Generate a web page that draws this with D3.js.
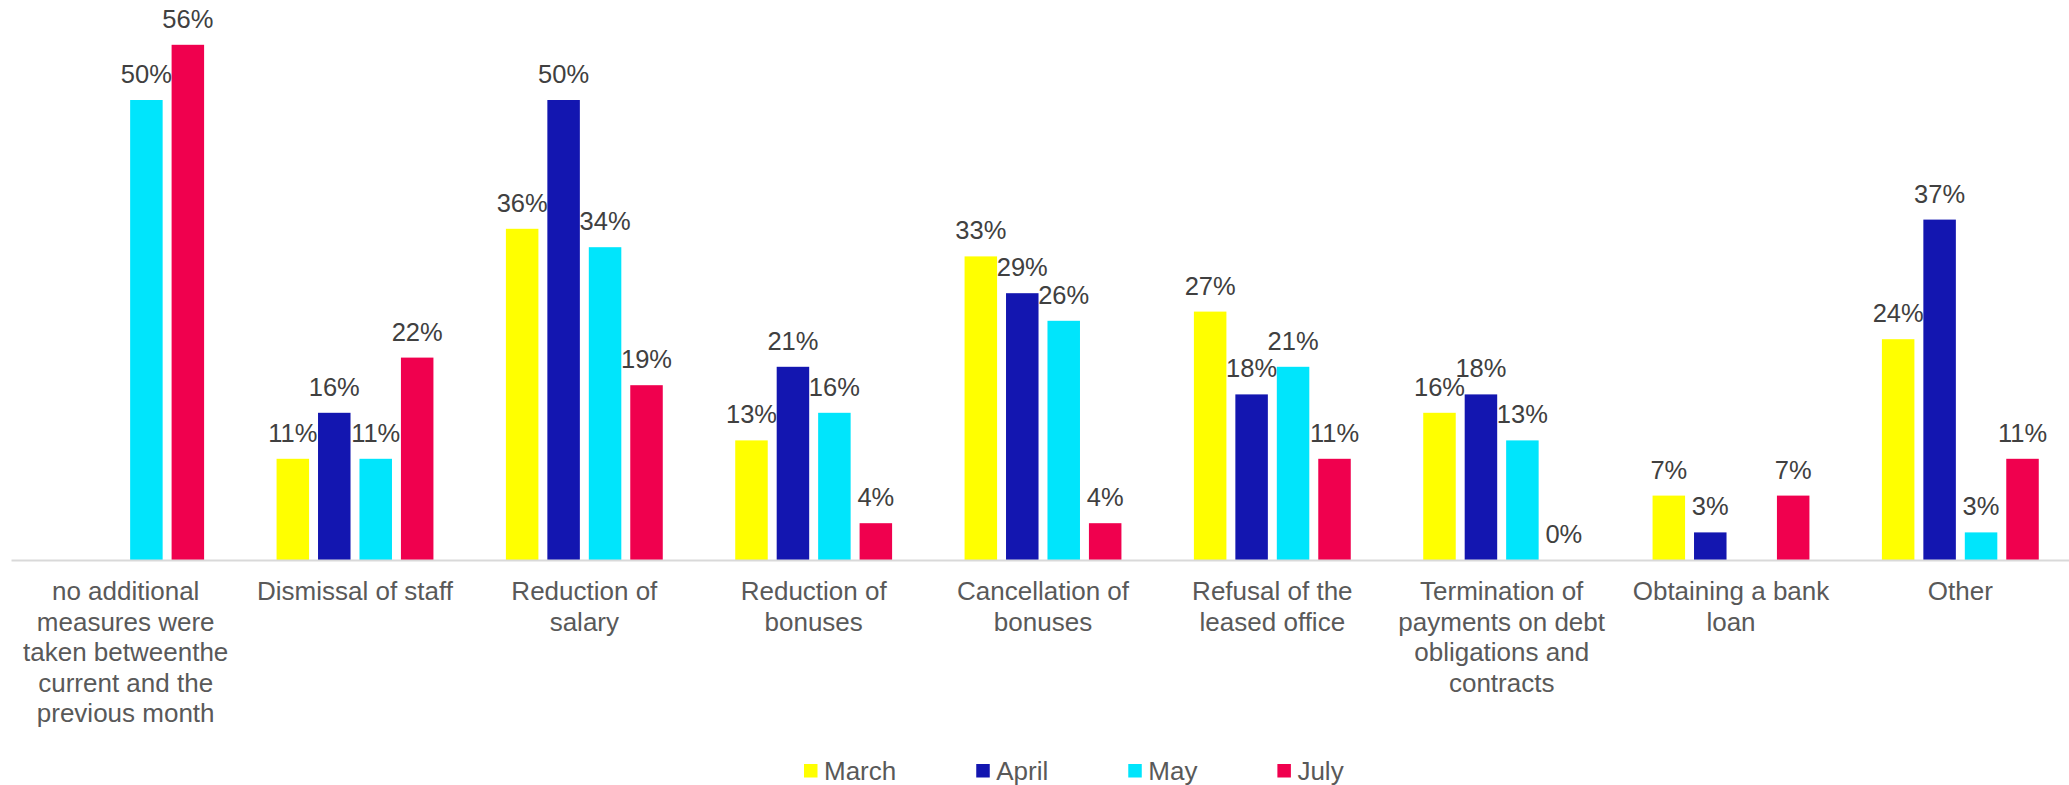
<!DOCTYPE html>
<html>
<head>
<meta charset="utf-8">
<script src="https://cdn.jsdelivr.net/npm/d3@7"></script>
<style>
  body { margin: 0; background: #fff; }
  text { font-family: "Liberation Sans", Arial, sans-serif; }
</style>
</head>
<body>
<div id="chart"></div>
<script>
var categories = [
    "no additional\nmeasures were\ntaken betweenthe\ncurrent and the\nprevious month",
    "Dismissal of staff",
    "Reduction of\nsalary",
    "Reduction of\nbonuses",
    "Cancellation of\nbonuses",
    "Refusal of the\nleased office",
    "Termination of\npayments on debt\nobligations and\ncontracts",
    "Obtaining a bank\nloan",
    "Other"
];
var seriesNames = ["March", "April", "May", "July"];
var march = [null, 11, 36, 13, 33, 27, 16, 7, 24];
var april = [null, 16, 50, 21, 29, 18, 18, 3, 37];
var may   = [50, 11, 34, 16, 26, 21, 13, null, 3];
var july  = [56, 22, 19, 4, 4, 11, 0, 7, 11];
var colors = ["#ffff00", "#1316b0", "#00e5fc", "#f0004e"];

var W = 2069, H = 785;
var svg = d3.select("#chart").append("svg")
    .attr("width", W)
    .attr("height", H);

var allSeries = [march, april, may, july];

var x0 = d3.scaleBand()
    .domain(categories)
    .range([11, 2075])
    .paddingInner(0.316)
    .paddingOuter(0.158);

var x1 = d3.scaleBand()
    .domain(seriesNames)
    .range([0, x0.bandwidth()])
    .paddingInner(0.216)
    .paddingOuter(0);

var y = d3.scaleLinear()
    .domain([0, 60])
    .range([560, 8]);

var color = d3.scaleOrdinal().domain(seriesNames).range(colors);

// build rows: one per category, cells per series
var rows = categories.map(function(c, i) {
    return {
        cat: c,
        cells: seriesNames.map(function(s, j) {
            return { series: s, value: allSeries[j][i] };
        }).filter(function(d) { return d.value !== null; })
    };
});

var group = svg.selectAll(".grp")
    .data(rows)
    .enter().append("g")
    .attr("class", "grp")
    .attr("transform", function(d) { return "translate(" + x0(d.cat) + ",0)"; });

group.selectAll("rect")
    .data(function(d) { return d.cells; })
    .enter().append("rect")
    .attr("x", function(d) { return x1(d.series); })
    .attr("y", function(d) { return y(d.value); })
    .attr("width", x1.bandwidth())
    .attr("height", function(d) { return y(0) - y(d.value); })
    .style("fill", function(d) { return color(d.series); });

group.selectAll(".lbl")
    .data(function(d) { return d.cells; })
    .enter().append("text")
    .attr("class", "lbl")
    .attr("x", function(d) { return x1(d.series) + x1.bandwidth() / 2; })
    .attr("y", function(d) { return y(d.value) - 17; })
    .attr("text-anchor", "middle")
    .style("font-size", "25.5px")
    .style("fill", "#404040")
    .text(function(d) { return d.value + "%"; });

// x axis
var xAxis = svg.append("g")
    .attr("transform", "translate(0," + y(0) + ")")
    .call(d3.axisBottom(x0).tickSize(0).tickSizeOuter(0).tickFormat(""));
xAxis.select(".domain")
    .attr("stroke", "#d9d9d9")
    .attr("stroke-width", 2);

xAxis.selectAll(".tick").each(function(c) {
    var t = d3.select(this).append("text")
        .attr("fill", "#595959")
        .attr("text-anchor", "middle")
        .style("font-size", "26px");
    c.split("\n").forEach(function(line, k) {
        t.append("tspan")
            .attr("x", 0)
            .attr("y", 40 + k * 30.5)
            .text(line);
    });
});

// legend
var legend = svg.append("g").attr("class", "legend");
var lx = 804;
seriesNames.forEach(function(s) {
    var g = legend.append("g").attr("transform", "translate(" + lx + ",0)");
    g.append("rect")
        .attr("x", 0)
        .attr("y", 764)
        .attr("width", 13.5)
        .attr("height", 13.5)
        .style("fill", color(s));
    var t = g.append("text")
        .attr("x", 20)
        .attr("y", 780)
        .style("font-size", "26px")
        .style("fill", "#595959")
        .text(s);
    lx += 20 + t.node().getComputedTextLength() + 80;
});
</script>
</body>
</html>
